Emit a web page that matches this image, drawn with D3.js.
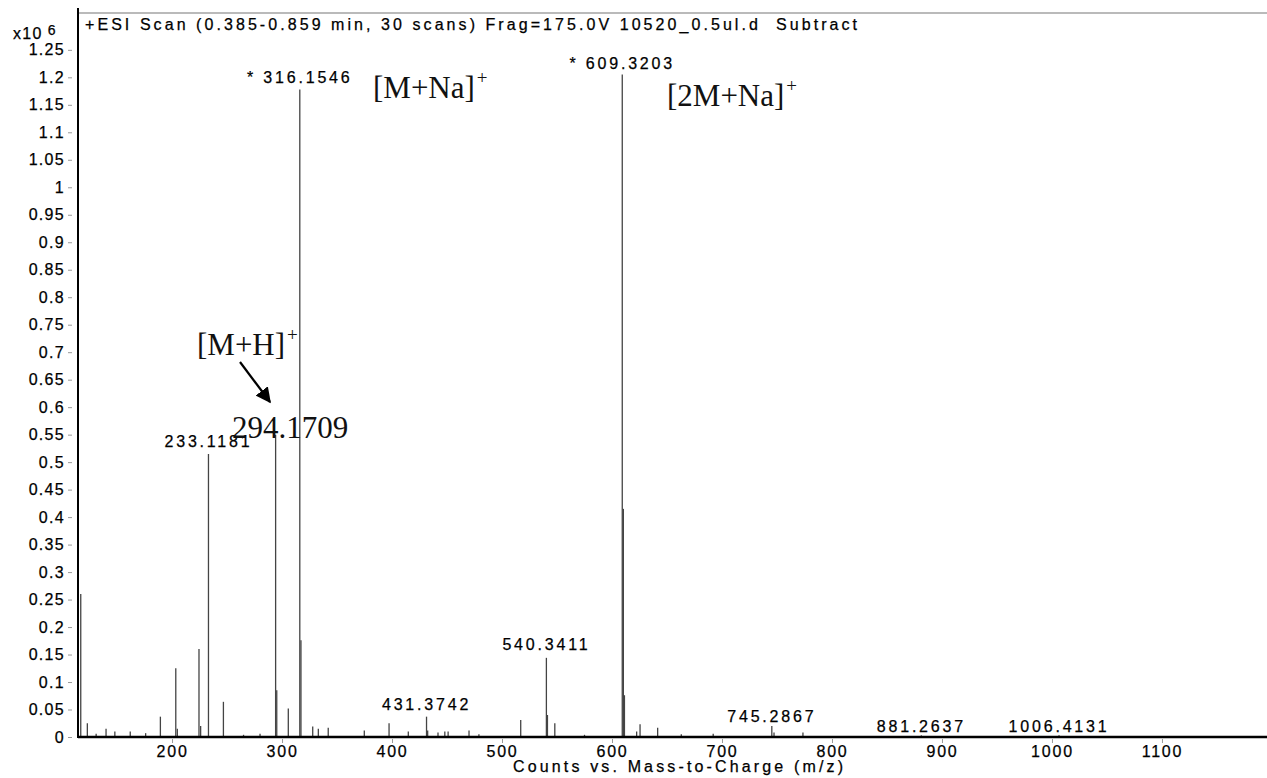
<!DOCTYPE html>
<html lang="en">
	<head>
		<meta charset="utf-8">
		<title>ESI Scan</title>
		<script src="https://d3js.org/d3.v7.min.js"></script>
		<style>
			html, body {
				margin: 0;
				padding: 0;
				background: #fff;
			}
			.sans {
				font-family: "Liberation Sans", Arial, sans-serif;
				fill: #000;
				stroke: #000;
				stroke-width: 0.25px;
			}
			.serif {
				font-family: "Liberation Serif", "Times New Roman", serif;
				fill: #111;
			}
		</style>
	</head>
	<body>
		<div id="chart"></div>
		<script>
			// peak positions (m/z) and heights (counts x10^6)
			var mz = [117, 123, 131, 140, 148, 162, 176, 189.4, 203.4, 204.8, 224.5, 226, 233.12, 246.7,
				265, 280, 294.17, 295.2, 305.7, 316.15, 317.2, 327.9, 333, 342, 374.8, 397.3, 414.8,
				431.37, 432.4, 441.8, 448, 451, 470, 479, 517, 540.34, 541.3, 548, 575,
				609.32, 610.32, 611.3, 622.4, 625.5, 641.5, 663, 692, 745.29, 747.3, 773.6,
				881.26, 1006.41];
			var counts = [0.26, 0.025, 0.006, 0.015, 0.01, 0.01, 0.007, 0.037, 0.125, 0.015, 0.16, 0.02, 0.515, 0.064,
				0.004, 0.006, 0.55, 0.085, 0.052, 1.178, 0.176, 0.019, 0.015, 0.017, 0.012, 0.025, 0.01,
				0.037, 0.012, 0.008, 0.01, 0.01, 0.012, 0.005, 0.031, 0.144, 0.04, 0.025, 0.004,
				1.205, 0.415, 0.076, 0.01, 0.023, 0.017, 0.005, 0.006, 0.02, 0.008, 0.008,
				0.003, 0.003];

			// labelled peaks
			var labelMz = [316.15, 609.32, 233.12, 431.37, 540.34, 745.29, 881.26, 1006.41];
			var labelText = ["* 316.1546", "* 609.3203", "233.1181", "431.3742", "540.3411", "745.2867", "881.2637", "1006.4131"];
			var labelY = [1.19, 1.215, 0.527, 0.049, 0.158, 0.027, 0.009, 0.009];

			var yTicks = [0, 0.05, 0.1, 0.15, 0.2, 0.25, 0.3, 0.35, 0.4, 0.45, 0.5, 0.55, 0.6, 0.65,
				0.7, 0.75, 0.8, 0.85, 0.9, 0.95, 1, 1.05, 1.1, 1.15, 1.2, 1.25];
			var xTicks = [200, 300, 400, 500, 600, 700, 800, 900, 1000, 1100];

			var w = 1267, h = 778;

			var x = d3.scaleLinear().domain([114.5, 1195.5]).range([78, 1267]);
			var y = d3.scaleLinear().domain([0, 1.317]).range([737, 13]);

			var svg = d3.select("#chart")
						.append("svg")
						.attr("width", w)
						.attr("height", h);

			// top frame line
			svg.append("line")
				.attr("x1", 78).attr("x2", w)
				.attr("y1", 13).attr("y2", 13)
				.attr("stroke", "#777")
				.attr("stroke-width", 1.2);

			// y axis
			var yAxis = svg.append("g")
				.attr("transform", "translate(72,0)")
				.call(d3.axisLeft(y).tickValues(yTicks).tickSize(4).tickPadding(3)
					.tickFormat(function(d) { return d3.format("~g")(d); }));
			yAxis.select(".domain").remove();
			yAxis.selectAll(".tick line").attr("stroke", "#999");
			yAxis.selectAll("text")
				.attr("class", "sans")
				.style("font-size", "16px")
				.style("letter-spacing", "1.3px");

			// x axis
			var xAxis = svg.append("g")
				.attr("transform", "translate(0,739)")
				.call(d3.axisBottom(x).tickValues(xTicks).tickSize(4).tickPadding(3)
					.tickFormat(d3.format("d")));
			xAxis.select(".domain").remove();
			xAxis.selectAll(".tick line").attr("stroke", "#999");
			xAxis.selectAll("text")
				.attr("class", "sans")
				.style("font-size", "16px")
				.style("letter-spacing", "1.8px");

			// peaks
			svg.append("g")
				.selectAll("line")
				.data(mz)
				.enter()
				.append("line")
				.attr("x1", function(d) { return x(d); })
				.attr("x2", function(d) { return x(d); })
				.attr("y1", y(0))
				.attr("y2", function(d, i) { return y(counts[i]); })
				.attr("stroke", "#444")
				.attr("stroke-width", 1.3);

			// axis lines
			svg.append("line")
				.attr("x1", 78).attr("x2", w)
				.attr("y1", y(0)).attr("y2", y(0))
				.attr("stroke", "#000")
				.attr("stroke-width", 2.5);
			svg.append("line")
				.attr("x1", 78).attr("x2", 78)
				.attr("y1", 8).attr("y2", y(0) + 1)
				.attr("stroke", "#000")
				.attr("stroke-width", 2);

			// peak labels
			svg.append("g")
				.selectAll("text")
				.data(labelMz)
				.enter()
				.append("text")
				.attr("class", "sans")
				.attr("x", function(d) { return x(d); })
				.attr("y", function(d, i) { return y(labelY[i]); })
				.attr("text-anchor", "middle")
				.style("font-size", "16px")
				.style("letter-spacing", "2.8px")
				.text(function(d, i) { return labelText[i]; });

			// title and unit
			svg.append("text")
				.attr("class", "sans")
				.attr("x", 85).attr("y", 30)
				.attr("textLength", 772)
				.style("font-size", "16px")
				.style("white-space", "pre")
				.text("+ESI Scan (0.385-0.859 min, 30 scans) Frag=175.0V 10520_0.5ul.d  Subtract");

			var unit = svg.append("text")
				.attr("class", "sans")
				.attr("x", 13).attr("y", 39)
				.style("font-size", "16px")
				.style("letter-spacing", "1.3px")
				.text("x10");
			unit.append("tspan")
				.attr("dx", 5).attr("dy", -4)
				.style("font-size", "14px")
				.text("6");

			svg.append("text")
				.attr("class", "sans")
				.attr("x", 513).attr("y", 772)
				.attr("textLength", 330)
				.style("font-size", "16px")
				.text("Counts vs. Mass-to-Charge (m/z)");

			// ion annotations
			function ion(px, py, main) {
				var t = svg.append("text")
					.attr("class", "serif")
					.attr("x", px).attr("y", py)
					.style("font-size", "31px")
					.text(main);
				t.append("tspan")
					.attr("dx", 2).attr("dy", -14)
					.style("font-size", "19px")
					.text("+");
			}
			ion(373, 98, "[M+Na]");
			ion(667, 106, "[2M+Na]");
			ion(197, 355, "[M+H]");

			svg.append("text")
				.attr("class", "serif")
				.attr("x", 232).attr("y", 438)
				.style("font-size", "31px")
				.text("294.1709");

			// arrow
			svg.append("defs").append("marker")
				.attr("id", "head")
				.attr("viewBox", "0 0 10 10")
				.attr("refX", 9).attr("refY", 5)
				.attr("markerWidth", 7).attr("markerHeight", 7)
				.attr("orient", "auto")
				.append("path")
				.attr("d", "M0,0L10,5L0,10z")
				.attr("fill", "#000");
			svg.append("line")
				.attr("x1", 240).attr("y1", 362)
				.attr("x2", 270).attr("y2", 402)
				.attr("stroke", "#000")
				.attr("stroke-width", 2.2)
				.attr("marker-end", "url(#head)");
		</script>
	</body>
</html>
